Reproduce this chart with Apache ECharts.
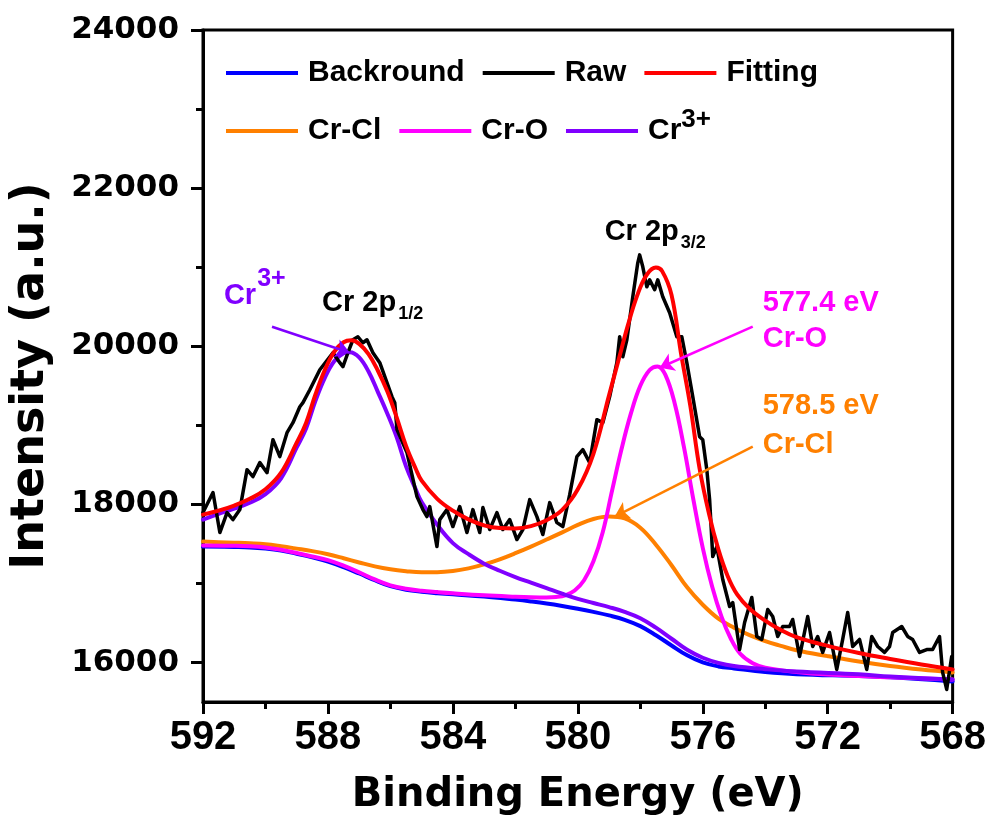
<!DOCTYPE html>
<html>
<head>
<meta charset="utf-8">
<script src="https://cdn.jsdelivr.net/npm/echarts@6/dist/echarts.min.js"></script>
<style>
  html, body { margin: 0; padding: 0; background: #ffffff; }
  #chart { width: 989px; height: 821px; }
</style>
</head>
<body>
<div id="chart"></div>
<script>
// Cr 2p XPS spectrum: binding energy (eV) vs intensity (a.u.)
const xRange = [568, 592];
const yRange = [15500, 24000];
const yMajorTicks = [16000, 18000, 20000, 22000, 24000];
const yMinorTicks = [17000, 19000, 21000, 23000];

const seriesNames = ['Backround', 'Raw', 'Fitting', 'Cr-Cl', 'Cr-O', 'Cr3+'];

// Shirley-type background
const backgroundData = [
  [592, 17466], [591, 17460], [590.5, 17455], [590, 17440], [589.5, 17415],
  [589, 17375], [588.5, 17330], [588, 17275], [587.5, 17205], [587, 17125],
  [586.5, 17040], [586, 16965], [585.5, 16920], [585, 16895], [584.5, 16877],
  [584, 16862], [583, 16835], [582, 16795], [581.5, 16772], [581, 16746],
  [580.5, 16715], [580, 16680], [579.5, 16640], [579, 16595], [578.5, 16540],
  [578, 16460], [577.5, 16345], [577, 16215], [576.5, 16090], [576, 16000],
  [575.5, 15950], [575, 15925], [574, 15880], [573, 15852], [571, 15828],
  [570, 15812], [568, 15760]
];

// measured counts
const rawData = [
  [592.00, 17896], [591.68, 18149], [591.46, 17643], [591.23, 17896], [591.04, 17807],
  [590.82, 17934], [590.59, 18439], [590.40, 18351], [590.18, 18528], [589.95, 18401],
  [589.76, 18818], [589.54, 18604], [589.31, 18907], [589.12, 19033], [588.90, 19235],
  [588.80, 19286], [588.58, 19450], [588.26, 19703], [587.84, 19918], [587.62, 19792],
  [587.52, 19741], [587.36, 19918], [587.20, 20082], [587.04, 20120], [586.88, 20044],
  [586.75, 20082], [586.56, 19918], [586.34, 19792], [586.11, 19539], [585.95, 19362],
  [585.86, 19286], [585.79, 18945], [585.47, 18654], [585.15, 18098], [584.96, 17934],
  [584.83, 17845], [584.74, 17972], [584.51, 17466], [584.42, 17807], [584.19, 17934],
  [584.00, 17719], [583.78, 17972], [583.55, 17643], [583.36, 17934], [583.14, 17643],
  [583.04, 17959], [582.82, 17681], [582.59, 17896], [582.40, 17681], [582.18, 17807],
  [581.95, 17555], [581.76, 17681], [581.54, 18060], [581.31, 17845], [581.12, 17618],
  [580.90, 18022], [580.67, 17769], [580.48, 17719], [580.26, 18123], [580.03, 18604],
  [579.84, 18692], [579.62, 18528], [579.39, 19071], [579.20, 19033], [578.98, 19362],
  [578.75, 19792], [578.66, 20120], [578.56, 19867], [578.43, 20082], [578.24, 20626],
  [578.08, 21055], [578.02, 21156], [577.92, 21005], [577.79, 20752], [577.70, 20840],
  [577.54, 20714], [577.44, 20840], [577.28, 20626], [577.06, 20423], [576.83, 20120],
  [576.67, 20120], [576.51, 19792], [576.32, 19362], [576.10, 18856], [576.00, 18818],
  [575.87, 18439], [575.78, 18060], [575.68, 17340], [575.55, 17466], [575.36, 17049],
  [575.14, 16708], [575.04, 16758], [574.82, 16164], [574.66, 16506], [574.43, 16822],
  [574.27, 16329], [574.11, 16291], [573.92, 16670], [573.76, 16581], [573.60, 16329],
  [573.44, 16455], [573.22, 16455], [573.12, 16544], [572.90, 16076], [572.64, 16581],
  [572.48, 16202], [572.32, 16329], [572.16, 16127], [571.94, 16379], [571.71, 15912],
  [571.52, 16291], [571.36, 16632], [571.20, 16202], [570.98, 16291], [570.75, 15912],
  [570.59, 16329], [570.40, 16202], [570.18, 16127], [570.02, 16202], [569.92, 16379],
  [569.63, 16455], [569.44, 16329], [569.28, 16291], [569.06, 16127], [568.83, 16164],
  [568.64, 16164], [568.42, 16329], [568.32, 15874], [568.19, 15659], [568.03, 16076]
];

// envelope of all components
const fittingData = [
  [592, 17870], [591.5, 17920], [591, 17985], [590.5, 18070], [590, 18190],
  [589.5, 18400], [589, 18780], [588.7, 19030], [588.4, 19390], [588.1, 19700],
  [587.8, 19930], [587.5, 20050], [587.25, 20075], [587, 20030], [586.7, 19900],
  [586.4, 19690], [586.1, 19430], [585.8, 19100], [585.5, 18740], [585.2, 18460],
  [585, 18300], [584.5, 18070], [584, 17920], [583.5, 17810], [583, 17735],
  [582.5, 17700], [582, 17695], [581.5, 17725], [581, 17800], [580.5, 17930],
  [580, 18190], [579.5, 18640], [579, 19380], [578.7, 19820], [578.4, 20260],
  [578.1, 20640], [577.8, 20900], [577.5, 20995], [577.3, 20950], [577, 20650],
  [576.7, 19920], [576.4, 19250], [576.1, 18450], [575.8, 17880], [575.5, 17430],
  [575.2, 17090], [574.9, 16860], [574.5, 16680], [574, 16530], [573.5, 16410],
  [573, 16320], [572, 16210], [571, 16120], [570, 16045], [569, 15975], [568, 15912]
];

// Cr-Cl component (578.5 eV)
const crClData = [
  [592, 17529], [591.5, 17522], [591, 17515], [590.5, 17507], [590, 17495],
  [589.5, 17470], [589, 17440], [588.5, 17408], [588, 17368], [587.5, 17318],
  [587, 17265], [586.5, 17215], [586, 17178], [585.5, 17155], [585, 17142],
  [584.5, 17142], [584, 17156], [583.5, 17190], [583, 17240], [582.5, 17305],
  [582, 17382], [581.5, 17466], [581, 17555], [580.5, 17645], [580, 17740],
  [579.5, 17815], [579, 17846], [578.5, 17822], [578, 17705], [577.5, 17490],
  [577, 17230], [576.5, 16950], [576, 16730], [575.5, 16555], [575, 16440],
  [574.5, 16345], [574, 16270], [573.5, 16210], [573, 16155], [572, 16080],
  [571, 16012], [570, 15955], [569, 15910], [568, 15874]
];

// Cr-O component (577.4 eV)
const crOData = [
  [592, 17480], [591, 17476], [590.5, 17470], [590, 17455], [589.5, 17425],
  [589, 17385], [588.5, 17340], [588, 17295], [587.5, 17225], [587, 17140],
  [586.5, 17050], [586, 16975], [585.5, 16932], [585, 16907], [584.5, 16890],
  [584, 16875], [583, 16850], [582, 16832], [581.5, 16825], [581, 16822],
  [580.7, 16828], [580.4, 16850], [580.1, 16910], [579.8, 17040], [579.5, 17280],
  [579.2, 17650], [578.9, 18180], [578.6, 18700], [578.3, 19150], [578, 19500],
  [577.7, 19700], [577.45, 19745], [577.2, 19640], [576.9, 19280], [576.6, 18720],
  [576.3, 18060], [576, 17450], [575.7, 16960], [575.4, 16580], [575.1, 16300],
  [574.8, 16110], [574.4, 15990], [574, 15935], [573, 15880], [572, 15848],
  [570, 15812], [568, 15785]
];

// Cr3+ component (2p1/2)
const cr3Data = [
  [592, 17807], [591.5, 17880], [591, 17945], [590.5, 18020], [590, 18130],
  [589.5, 18330], [589, 18720], [588.7, 18960], [588.4, 19310], [588.1, 19600],
  [587.8, 19810], [587.5, 19910], [587.3, 19925], [587, 19860], [586.7, 19680],
  [586.4, 19420], [586.1, 19150], [585.8, 18850], [585.5, 18480], [585.2, 18200],
  [585, 18030], [584.5, 17740], [584, 17510], [583.5, 17370], [583, 17250],
  [582.5, 17160], [582, 17080], [581.5, 17010], [581, 16940], [580.5, 16870],
  [580, 16805], [579.5, 16752], [579, 16700], [578.5, 16640], [578, 16560],
  [577.5, 16440], [577, 16300], [576.5, 16160], [576, 16060], [575.5, 15995],
  [575, 15955], [574, 15915], [573, 15885], [571, 15850], [570, 15822], [568, 15785]
];

// arrows pointing at component maxima: [start, end] in data units
const cr3Arrow = [[589.79, 20247], [587.30, 19918]];
const crOArrow = [[574.40, 20247], [577.38, 19728]];
const crClArrow = [[574.40, 18730], [578.82, 17845]];

const COLORS = {
  bg: '#0000FF', raw: '#000000', fit: '#FF0000',
  crcl: '#FF8000', cro: '#FF00FF', cr3: '#8000FF'
};
const SANS = 'Liberation Sans, Arial, sans-serif';
const WIDE = 'DejaVu Sans, sans-serif';

const chart = echarts.init(document.getElementById('chart'), null, { renderer: 'canvas' });

function arrowLine(points, color) {
  return {
    silent: true,
    animation: false,
    symbol: ['none', 'arrow'],
    symbolSize: 14,
    label: { show: false },
    lineStyle: { color: color, width: 2.5, type: 'solid' },
    data: [[{ coord: points[0] }, { coord: points[1] }]]
  };
}

function lineSeries(name, data, color, width, smooth, extra) {
  return Object.assign({
    name: name,
    type: 'line',
    data: data,
    showSymbol: false,
    symbol: 'none',
    smooth: smooth,
    color: color,
    lineStyle: { color: color, width: width, cap: 'round', join: 'round' },
    z: 2
  }, extra || {});
}

const legendCommon = {
  left: 221,
  orient: 'horizontal',
  icon: 'rect',
  itemWidth: 72,
  itemHeight: 4,
  itemGap: 18,
  selectedMode: false,
  textStyle: {
    fontFamily: SANS, fontSize: 30, fontWeight: 'bold', color: '#000',
    padding: [0, 0, 0, 5],
    rich: {
      sup: { fontFamily: SANS, fontSize: 26, fontWeight: 'bold', color: '#000', padding: [0, 0, 22, 0] }
    }
  },
  formatter: function (name) { return name === 'Cr3+' ? 'Cr{sup|3+}' : name; }
};

const option = {
  animation: false,
  backgroundColor: '#ffffff',
  grid: {
    left: 203, right: 36, top: 30, bottom: 118,
    show: true, borderColor: '#000', borderWidth: 3, backgroundColor: 'transparent'
  },
  legend: [
    Object.assign({}, legendCommon, { top: 53, data: ['Backround', 'Raw', 'Fitting'] }),
    Object.assign({}, legendCommon, { top: 102, data: ['Cr-Cl', 'Cr-O', 'Cr3+'] })
  ],
  xAxis: {
    type: 'value',
    min: xRange[0], max: xRange[1], interval: 4,
    inverse: true,
    name: 'Binding Energy (eV)',
    nameLocation: 'middle',
    nameGap: 74,
    nameTextStyle: { fontFamily: WIDE, fontSize: 40, fontWeight: 'bold', color: '#000' },
    axisLine: { show: true, onZero: false, lineStyle: { color: '#000', width: 3 } },
    axisTick: { show: true, inside: false, length: 12, lineStyle: { color: '#000', width: 3 } },
    minorTick: { show: true, splitNumber: 2, length: 7, lineStyle: { color: '#000', width: 3 } },
    axisLabel: { fontFamily: SANS, fontSize: 40, fontWeight: 'bold', color: '#000', margin: 16 },
    splitLine: { show: false },
    minorSplitLine: { show: false }
  },
  yAxis: [
    {
      type: 'value',
      min: yRange[0], max: yRange[1],
      position: 'left',
      name: 'Intensity (a.u.)',
      nameLocation: 'middle',
      nameGap: 149,
      nameTextStyle: {
        fontFamily: WIDE, fontSize: 46, fontWeight: 'bold', color: '#000',
        padding: [0, 20, 0, 0]
      },
      axisLine: { show: true, onZero: false, lineStyle: { color: '#000', width: 3 } },
      axisTick: { show: true, inside: false, length: 12, customValues: yMajorTicks, lineStyle: { color: '#000', width: 3 } },
      axisLabel: {
        fontFamily: WIDE, fontSize: 31, fontWeight: 'bold', color: '#000', margin: 24,
        customValues: yMajorTicks,
        formatter: function (v) { return String(v); }
      },
      splitLine: { show: false }
    },
    {
      type: 'value',
      min: yRange[0], max: yRange[1],
      position: 'left',
      axisLine: { show: false },
      axisTick: { show: true, inside: false, length: 7, customValues: yMinorTicks, lineStyle: { color: '#000', width: 3 } },
      axisLabel: { show: false },
      splitLine: { show: false }
    }
  ],
  series: [
    lineSeries(seriesNames[0], backgroundData, COLORS.bg, 4, 0.4),
    lineSeries(seriesNames[3], crClData, COLORS.crcl, 4, 0.4, { markLine: arrowLine(crClArrow, COLORS.crcl) }),
    lineSeries(seriesNames[4], crOData, COLORS.cro, 4, 0.4, { markLine: arrowLine(crOArrow, COLORS.cro) }),
    lineSeries(seriesNames[5], cr3Data, COLORS.cr3, 4, 0.4, { markLine: arrowLine(cr3Arrow, COLORS.cr3) }),
    lineSeries(seriesNames[1], rawData, COLORS.raw, 3.5, false, { z: 3 }),
    lineSeries(seriesNames[2], fittingData, COLORS.fit, 4, 0.4, { z: 4 })
  ]
};

chart.setOption(option);

// peak labels anchored in data coordinates
const peakLabels = [
  { at: [588.19, 20550], text: '{b|Cr 2p}{sub|1/2}', color: '#000' },
  { at: [579.14, 21447], text: '{b|Cr 2p}{sub|3/2}', color: '#000' },
  { at: [591.33, 20640], text: '{b|Cr}{sup|3+}', color: COLORS.cr3 },
  { at: [574.08, 20544], text: '{b|577.4 eV}', color: COLORS.cro },
  { at: [574.08, 20095], text: '{b|Cr-O}', color: COLORS.cro },
  { at: [574.08, 19248], text: '{b|578.5 eV}', color: COLORS.crcl },
  { at: [574.08, 18755], text: '{b|Cr-Cl}', color: COLORS.crcl }
];

const graphics = peakLabels.map(function (p) {
  const px = chart.convertToPixel({ xAxisIndex: 0, yAxisIndex: 0 }, p.at);
  return {
    type: 'text',
    x: px[0], y: px[1],
    silent: true,
    style: {
      text: p.text,
      fill: p.color,
      align: 'left', verticalAlign: 'middle',
      textAlign: 'left', textVerticalAlign: 'middle',
      font: 'bold 29px ' + SANS,
      rich: {
        b: { fill: p.color, color: p.color, fontFamily: SANS, fontWeight: 'bold', fontSize: 29 },
        sub: { fill: p.color, color: p.color, fontFamily: SANS, fontWeight: 'bold', fontSize: 18, padding: [22, 0, 0, 2] },
        sup: { fill: p.color, color: p.color, fontFamily: SANS, fontWeight: 'bold', fontSize: 25, padding: [0, 0, 34, 1] }
      }
    },
    z: 100
  };
});

chart.setOption({ graphic: graphics });
</script>
</body>
</html>
